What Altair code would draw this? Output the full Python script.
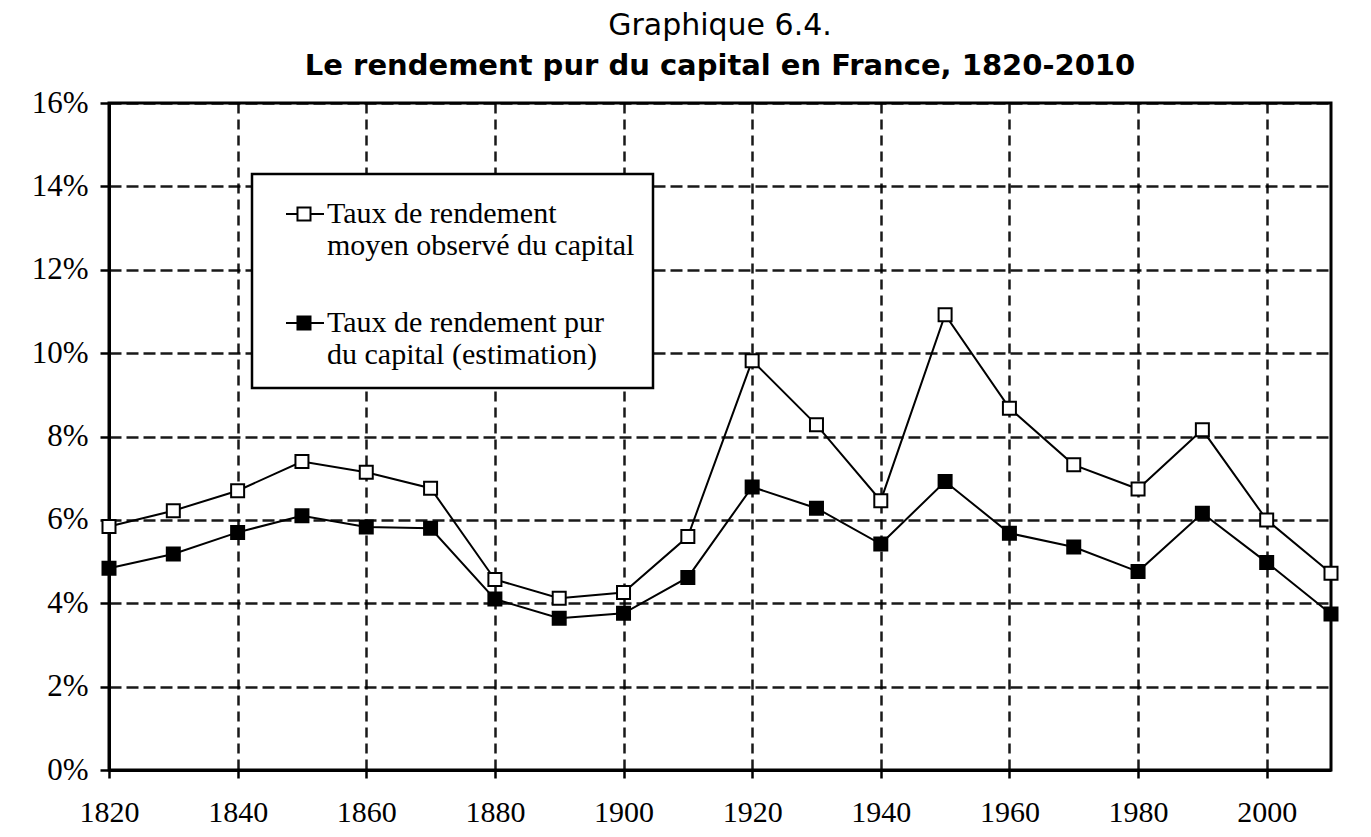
import altair as alt
import pandas as pd

years = [1820, 1830, 1840, 1850, 1860, 1870, 1880, 1890, 1900, 1910,
         1920, 1930, 1940, 1950, 1960, 1970, 1980, 1990, 2000, 2010]
observe = [5.84, 6.22, 6.70, 7.40, 7.14, 6.76, 4.57, 4.12, 4.26, 5.60,
           9.82, 8.28, 6.46, 10.92, 8.68, 7.32, 6.74, 8.16, 6.00, 4.72]
pur = [4.84, 5.18, 5.70, 6.10, 5.83, 5.80, 4.10, 3.64, 3.76, 4.62,
       6.79, 6.28, 5.42, 6.92, 5.68, 5.35, 4.76, 6.16, 4.98, 3.74]
series_names = ["Taux de rendement|moyen observé du capital",
                "Taux de rendement pur|du capital (estimation)"]
x_ticks = [1820, 1840, 1860, 1880, 1900, 1920, 1940, 1960, 1980, 2000]
y_ticks = [0, 2, 4, 6, 8, 10, 12, 14, 16]

rows = []
for name, vals in zip(series_names, [observe, pur]):
    for yr, v in zip(years, vals):
        rows.append({"annee": yr, "taux": v, "serie": name})
df = pd.DataFrame(rows)

# legend symbol: a short line with a square on it
h = 0.31
legend_path = (f"M-0.286,0H{0.571-h:.3f}M{0.571+h:.3f},0H1.524"
               f"M{0.571-h:.3f},{-h}H{0.571+h:.3f}V{h}H{0.571-h:.3f}Z")

x_enc = alt.X("annee:Q", scale=alt.Scale(domain=[1820, 2010], nice=False, zero=False),
              axis=alt.Axis(values=x_ticks, format="d", title=None, labelFlush=False,
                            labelFontSize=30,
                            gridDash=[10, 6], gridColor="black", gridWidth=2.5, gridOpacity=0.9,
                            tickSize=8, labelPadding=19))
y_enc = alt.Y("taux:Q", scale=alt.Scale(domain=[0, 16], nice=False),
              axis=alt.Axis(values=y_ticks, labelExpr="datum.value + '%'", title=None,
                            gridDash=[12, 5], gridColor="black", gridWidth=2.5, gridOpacity=0.9,
                            tickSize=9, labelPadding=12))

lines = alt.Chart(df).mark_line(color="black", strokeWidth=2).encode(
    x=x_enc, y=y_enc, detail="serie:N")

points = alt.Chart(df).mark_point(shape="square", filled=True, stroke="black",
                                  strokeWidth=2, size=169, opacity=1).encode(
    x="annee:Q", y="taux:Q",
    fill=alt.Fill("serie:N",
                  scale=alt.Scale(domain=series_names, range=["white", "black"]),
                  legend=alt.Legend(title=None, orient="none", legendX=143, legendY=71,
                                    fillColor="white", strokeColor="black",
                                    padding=18, rowPadding=40, labelOffset=13,
                                    symbolType=legend_path, symbolSize=1764,
                                    symbolStrokeColor="black", symbolStrokeWidth=2,
                                    labelFont="Liberation Serif", labelFontSize=30,
                                    labelColor="black", labelLimit=500,
                                    labelExpr="split(datum.label, '|')")))

chart = alt.layer(lines, points).properties(
    width=1222, height=667,
    padding={"left": 101, "top": 95, "right": 30, "bottom": 59},
    autosize=alt.AutoSizeParams(type="none"),
    title=alt.Title("Graphique 6.4.",
                    subtitle="Le rendement pur du capital en France, 1820-2010",
                    font="DejaVu Sans", fontSize=30, fontWeight="normal", color="black",
                    subtitleFont="DejaVu Sans", subtitleFontSize=29, subtitleFontWeight="bold",
                    subtitleColor="black", anchor="middle", frame="group",
                    offset=6, subtitlePadding=11)
).configure_view(
    stroke="black", strokeWidth=3
).configure_axis(
    domainColor="black", domainWidth=3, tickColor="black", tickWidth=2.5,
    labelFont="Liberation Serif", labelFontSize=31, labelColor="black"
).configure_legend(strokeWidth=2.5)

chart.save("out.html", embed_options={"renderer": "svg", "actions": False})
